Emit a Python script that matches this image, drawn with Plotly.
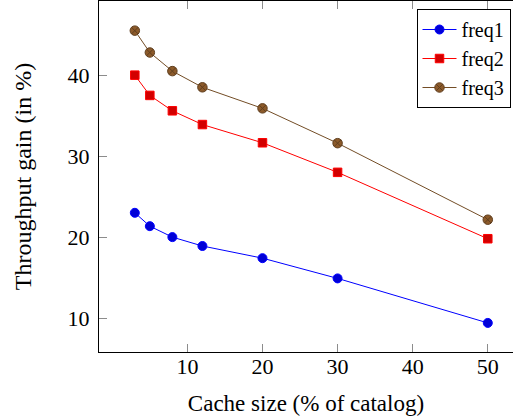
import plotly.graph_objects as go

cache_size = [3, 5, 8, 12, 20, 30, 50]
freq1 = [23.0, 21.35, 20.0, 18.9, 17.4, 14.9, 9.4]
freq2 = [40.0, 37.5, 35.6, 33.9, 31.65, 28.0, 19.8]
freq3 = [45.5, 42.8, 40.5, 38.5, 35.9, 31.6, 22.15]
series_names = ["freq1", "freq2", "freq3"]
x_ticks = [10, 20, 30, 40, 50]
y_ticks = [10, 20, 30, 40]

FONT = "Liberation Serif"
FS = 22
FT = 23

fig = go.Figure()
fig.add_trace(go.Scatter(
    x=cache_size, y=freq1, name=series_names[0], mode="lines+markers",
    line=dict(color="rgb(0,0,255)", width=1),
    marker=dict(symbol="circle", size=9, color="rgb(0,0,215)",
                line=dict(color="rgb(0,0,255)", width=1))))
fig.add_trace(go.Scatter(
    x=cache_size, y=freq2, name=series_names[1], mode="lines+markers",
    line=dict(color="rgb(255,0,0)", width=1),
    marker=dict(symbol="square", size=8.5, color="rgb(210,0,0)",
                line=dict(color="rgb(255,0,0)", width=1))))
fig.add_trace(go.Scatter(
    x=cache_size, y=freq3, name=series_names[2], mode="lines+markers",
    line=dict(color="rgb(115,77,38)", width=1),
    marker=dict(symbol="circle-x", size=9.5, color="rgb(140,90,42)",
                line=dict(color="rgb(95,62,30)", width=1))))

W, H = 513, 419
ml, mt, mb = 99, 1, 67
plot_w = W - ml
px_per_unit_x = 7.51
x0 = -1.77
x1 = x0 + plot_w / px_per_unit_x

fig.update_layout(
    width=W, height=H,
    margin=dict(l=ml, r=0, t=mt, b=mb, pad=0),
    paper_bgcolor="white", plot_bgcolor="white",
    font=dict(family=FONT, size=FS, color="black"),
    showlegend=True,
    legend=dict(
        x=(510.5 - ml) / plot_w, y=1 - (9 - mt) / (H - mt - mb),
        xanchor="right", yanchor="top",
        bordercolor="black", borderwidth=1, bgcolor="white",
        font=dict(family=FONT, size=20),
        tracegroupgap=0, itemwidth=34,
        entrywidth=100, entrywidthmode="pixels",
    ),
    xaxis=dict(
        range=[x0, x1], tickvals=x_ticks, ticktext=[str(v) for v in x_ticks],
        showgrid=False, zeroline=False, automargin=False,
        showline=True, linecolor="black", linewidth=1.2, mirror="ticks",
        ticks="inside", ticklen=8, tickcolor="rgb(140,140,140)", tickwidth=1,
        ticklabelstandoff=-6,
        tickfont=dict(family=FONT, size=FS),
        title=dict(text="Cache size (% of catalog)", font=dict(family=FONT, size=FT), standoff=17),
    ),
    yaxis=dict(
        range=[5.81, 49.16], tickvals=y_ticks, ticktext=[str(v) for v in y_ticks],
        showgrid=False, zeroline=False, automargin=False,
        showline=True, linecolor="black", linewidth=1.2, mirror=False,
        ticks="inside", ticklen=8, tickcolor="rgb(140,140,140)", tickwidth=1,
        ticklabelstandoff=4,
        tickfont=dict(family=FONT, size=FS),
        title=dict(text="Throughput gain (in %)", font=dict(family=FONT, size=24), standoff=29),
    ),
)

fig.write_html("out.html", config={"displayModeBar": False},
               post_script="document.body.style.margin='0px';")
